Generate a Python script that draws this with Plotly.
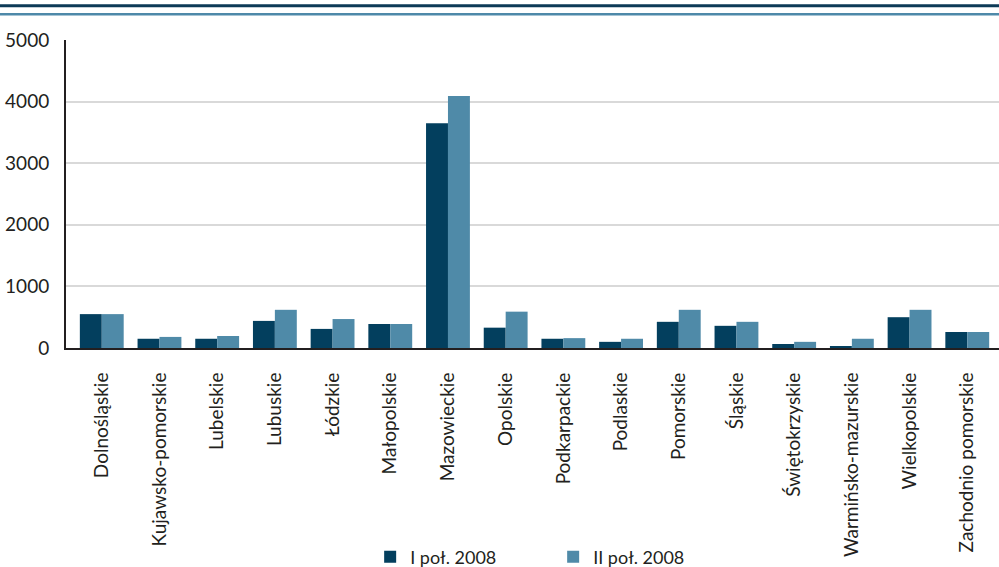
import plotly.graph_objects as go

categories = ["Dolnośląskie", "Kujawsko-pomorskie", "Lubelskie", "Lubuskie", "Łódzkie",
              "Małopolskie", "Mazowieckie", "Opolskie", "Podkarpackie", "Podlaskie",
              "Pomorskie", "Śląskie", "Świętokrzyskie", "Warmińsko-mazurskie",
              "Wielkopolskie", "Zachodnio pomorskie"]
h1_2008 = [550, 150, 150, 440, 310, 390, 3650, 330, 150, 100, 425, 360, 65, 30, 500, 260]
h2_2008 = [550, 180, 195, 620, 470, 390, 4090, 590, 160, 150, 620, 425, 100, 150, 620, 260]
series_names = ["I poł. 2008", "II poł. 2008"]
y_ticks = [0, 1000, 2000, 3000, 4000, 5000]

DARK = "#033f5e"
LIGHT = "#4f8aa8"
FONT = "Lato"
PLOT_H = 308

fig = go.Figure()
fig.add_trace(go.Bar(x=categories, y=h1_2008, name=series_names[0], marker_color=DARK,
                     marker_line_width=0))
fig.add_trace(go.Bar(x=categories, y=h2_2008, name=series_names[1], marker_color=LIGHT,
                     marker_line_width=0))

fig.update_layout(
    width=999, height=567,
    margin=dict(l=66, r=0, t=40, b=219, autoexpand=False),
    paper_bgcolor="white", plot_bgcolor="white",
    barmode="group", bargap=0.24, bargroupgap=0,
    font=dict(family=FONT, color="#231f20", size=18),
    showlegend=True,
    legend=dict(orientation="h", x=0.326, xanchor="left", y=(348 - 557) / PLOT_H,
                yanchor="middle",
                font=dict(size=18, family=FONT, color="#231f20"),
                itemwidth=30, traceorder="normal", entrywidth=138,
                bgcolor="rgba(0,0,0,0)"),
    xaxis=dict(range=[-0.62, 15.55], showgrid=False, showline=True, linecolor="#231f20",
               linewidth=2, tickangle=-90, ticks="outside", ticklen=15,
               tickcolor="rgba(0,0,0,0)", tickfont=dict(size=19, family=FONT),
               fixedrange=True, automargin=False),
    yaxis=dict(range=[0, 5000], tickvals=y_ticks, showgrid=True, gridcolor="#d9d9d9",
               gridwidth=1.5, showline=True, linecolor="#231f20", linewidth=2,
               ticks="outside", ticklen=11, tickcolor="rgba(0,0,0,0)",
               tickfont=dict(size=19, family=FONT), zeroline=False, automargin=False),
    shapes=[
        dict(type="line", xref="paper", yref="paper", x0=-0.08, x1=1.0,
             y0=1 + 34.2 / PLOT_H, y1=1 + 34.2 / PLOT_H, line=dict(color="#0d3a57", width=3)),
        dict(type="line", xref="paper", yref="paper", x0=-0.08, x1=1.0,
             y0=1 + 25.8 / PLOT_H, y1=1 + 25.8 / PLOT_H, line=dict(color="#4e89a9", width=2.5)),
    ],
)

fig.write_html("out.html", config={"displayModeBar": False},
               post_script="document.body.style.margin='0';")
